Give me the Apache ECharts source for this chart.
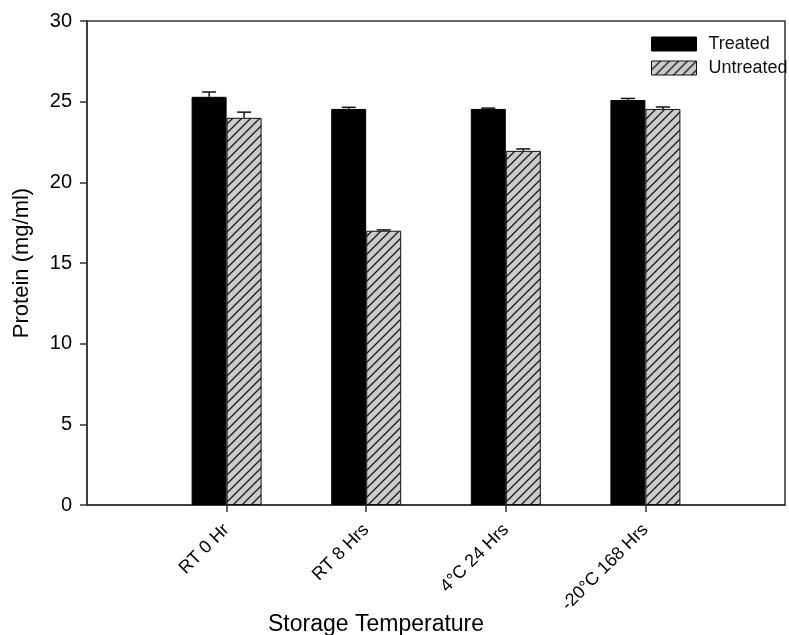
<!DOCTYPE html>
<html>
<head>
<meta charset="utf-8">
<script src="https://cdn.jsdelivr.net/npm/echarts@6/dist/echarts.min.js"></script>
<style>
html,body{margin:0;padding:0;background:#fff;}
#chart{width:789px;height:635px;}
</style>
</head>
<body>
<div id="chart"></div>
<script>
// ---- data ----
var categories = ['', 'RT 0 Hr', 'RT 8 Hrs', '4°C 24 Hrs', '-20°C 168 Hrs', ''];
var treated    = ['-', 25.3, 24.55, 24.55, 25.1, '-'];
var untreated  = ['-', 24.0, 17.0, 21.95, 24.55, '-'];
var treatedErr   = [0, 0.3, 0.1, 0.05, 0.1, 0];
var untreatedErr = [0, 0.35, 0.05, 0.12, 0.12, 0];
var yTicks = [0, 5, 10, 15, 20, 25, 30];
var xTitle = 'Storage Temperature';
var yTitle = 'Protein (mg/ml)';

var FONT = '"Liberation Sans", Arial, sans-serif';
var BAR_W = 35;

// hatch pattern
function makeHatch() {
  var c = document.createElement('canvas');
  c.width = 9; c.height = 9;
  var g = c.getContext('2d');
  g.fillStyle = '#cccccc';
  g.fillRect(0, 0, 9, 9);
  g.strokeStyle = '#1a1a1a';
  g.lineWidth = 1.3;
  g.beginPath();
  g.moveTo(-1, 10); g.lineTo(10, -1);
  g.moveTo(-1, 1); g.lineTo(1, -1);
  g.moveTo(8, 10); g.lineTo(10, 8);
  g.stroke();
  return c;
}
var hatch = { image: makeHatch(), repeat: 'repeat' };

function errSeries(values, errs, offset) {
  var data = [];
  for (var i = 0; i < values.length; i++) {
    if (values[i] !== '-') data.push([i, values[i], values[i] + errs[i]]);
  }
  return {
    type: 'custom',
    silent: true,
    z: 5,
    data: data,
    encode: { x: 0, y: [1, 2] },
    renderItem: function (params, api) {
      var p0 = api.coord([api.value(0), api.value(1)]);
      var p1 = api.coord([api.value(0), api.value(2)]);
      var x = p0[0] + offset;
      var cap = 7;
      return {
        type: 'group',
        children: [
          { type: 'line', shape: { x1: x, y1: p0[1], x2: x, y2: p1[1] }, style: { stroke: '#111', lineWidth: 1.5 } },
          { type: 'line', shape: { x1: x - cap, y1: p1[1], x2: x + cap, y2: p1[1] }, style: { stroke: '#111', lineWidth: 1.5 } }
        ]
      };
    }
  };
}

var chart = echarts.init(document.getElementById('chart'), null, { renderer: 'canvas' });
chart.setOption({
  backgroundColor: '#ffffff',
  animation: false,
  textStyle: { fontFamily: FONT },
  grid: { left: 87, right: 4, top: 21, bottom: 130, show: true, borderColor: '#333', borderWidth: 1.5, backgroundColor: 'transparent' },
  legend: {
    orient: 'vertical',
    left: 646, top: 30,
    icon: 'rect',
    itemWidth: 45, itemHeight: 14, itemGap: 6,
    textStyle: { fontFamily: FONT, fontSize: 18, color: '#111', padding: [0, 0, 0, 7] },
    data: [
      { name: 'Treated', itemStyle: { color: '#000', borderColor: '#000', borderWidth: 1 } },
      { name: 'Untreated', itemStyle: { color: hatch, borderColor: '#111', borderWidth: 1 } }
    ]
  },
  graphic: [
    { type: 'text', left: 268, top: 613, style: { text: xTitle, font: '23px ' + FONT, fill: '#000' } }
  ],
  xAxis: {
    type: 'category',
    data: categories,
    boundaryGap: false,
    axisLine: { show: true, lineStyle: { color: '#333', width: 1.5 } },
    axisTick: { show: true, length: 7, lineStyle: { color: '#333', width: 1.5 },
      interval: function (idx, val) { return val !== ''; } },
    axisLabel: { rotate: 45, fontSize: 18, color: '#000', margin: 22, fontFamily: FONT,
      interval: function (idx, val) { return val !== ''; } },
    splitLine: { show: false }
  },
  yAxis: {
    type: 'value',
    min: 0, max: 30, interval: 5,
    name: yTitle,
    nameLocation: 'middle',
    nameGap: 54,
    nameTextStyle: { fontFamily: FONT, fontSize: 22, color: '#000' },
    axisLine: { show: true, lineStyle: { color: '#333', width: 1.5 } },
    axisTick: { show: true, length: 7, lineStyle: { color: '#333', width: 1.5 } },
    axisLabel: { fontSize: 20, color: '#000', margin: 15, fontFamily: FONT,
      formatter: function (v) { return yTicks.indexOf(v) >= 0 ? String(v) : ''; } },
    splitLine: { show: false }
  },
  series: [
    { name: 'Treated', type: 'bar', data: treated, barWidth: BAR_W, barGap: '0%',
      itemStyle: { color: '#000', borderColor: '#000', borderWidth: 1 } },
    { name: 'Untreated', type: 'bar', data: untreated, barWidth: BAR_W, barGap: '0%',
      itemStyle: { color: hatch, borderColor: '#111', borderWidth: 1 } },
    errSeries(treated, treatedErr, -BAR_W / 2),
    errSeries(untreated, untreatedErr, BAR_W / 2)
  ]
});
</script>
</body>
</html>
